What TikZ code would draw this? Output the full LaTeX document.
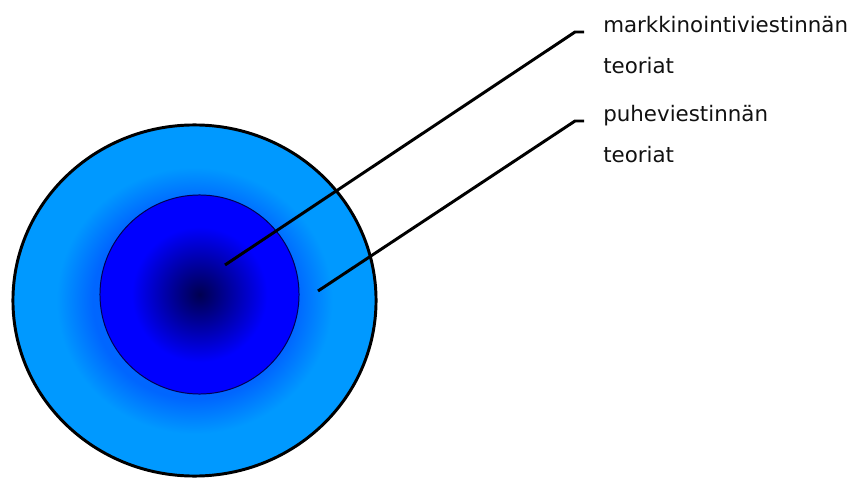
\documentclass[tikz,border=0pt]{standalone}
\usepackage{fontspec}
\setmainfont{DejaVu Sans}
\usetikzlibrary{positioning,calc,shapes.geometric}

\definecolor{skyblue}{HTML}{0099FF}
\definecolor{midblue}{HTML}{0066FF}
\definecolor{pureblue}{HTML}{0000FF}
\definecolor{nightblue}{HTML}{000050}
\definecolor{inktext}{HTML}{111111}

\pgfdeclareradialshading{outerring}{\pgfpoint{0bp}{0bp}}{color(0bp)=(midblue); color(14bp)=(midblue); color(19bp)=(skyblue); color(25bp)=(skyblue); color(50bp)=(skyblue)}
\pgfdeclareradialshading{innercore}{\pgfpoint{0bp}{0bp}}{color(0bp)=(nightblue); color(17bp)=(pureblue); color(25bp)=(pureblue); color(50bp)=(pureblue)}

\begin{document}
\begin{tikzpicture}[
    x=0.025cm, y=-0.025cm,
    ring/.style={ellipse, draw=black, line width=2.1pt, shading=outerring, inner sep=0pt},
    core/.style={circle, draw=nightblue, line width=0.7pt, shading=innercore, inner sep=0pt},
    labeltext/.style={align=left, inner sep=0pt, text=inktext, font=\fontsize{15.2}{29.2}\selectfont},
    leader/.style={line width=2.1pt}
]
\useasboundingbox (0,0) rectangle (860,478);

\node[ring, minimum width=9.075cm, minimum height=8.775cm] (outer) at (194.5,300.5) {};
\node[core, minimum size=4.975cm] (inner) at (199.5,294.5) {};

% base anchor sits on the last line
\node[labeltext, anchor=base west] (mark) at (603,74) {markkinointiviestinnän\\teoriat};
\node[labeltext, anchor=base west] (speech) at (603,163) {puheviestinnän\\teoriat};

\coordinate (tipmark) at (225,265);
\coordinate (tipspeech) at (318,291);

\draw[leader] (tipmark) -- ($(mark.base west)+(-28,-42)$) -- ($(mark.base west)+(-19,-42)$);
\draw[leader] (tipspeech) -- ($(speech.base west)+(-28,-42)$) -- ($(speech.base west)+(-19,-42)$);
\end{tikzpicture}
\end{document}
